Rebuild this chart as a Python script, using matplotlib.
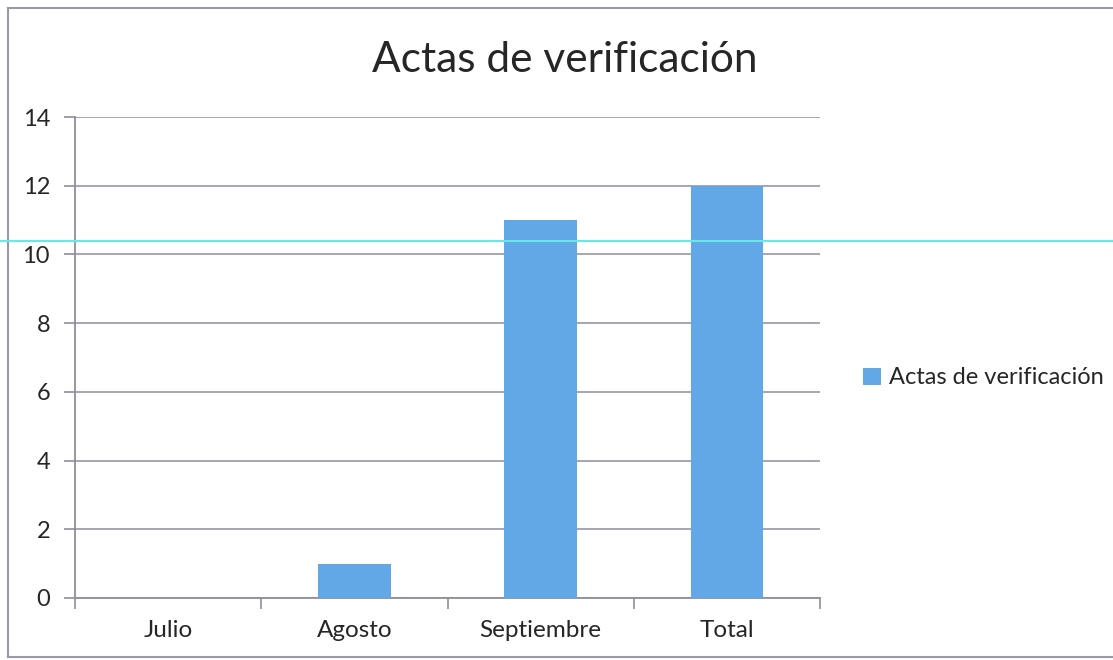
import matplotlib.pyplot as plt
from matplotlib.lines import Line2D
from matplotlib.patches import Patch

meses = ["Julio", "Agosto", "Septiembre", "Total"]
actas = [0, 1, 11, 12]
y_ticks = [0, 2, 4, 6, 8, 10, 12, 14]

plt.rcParams['font.family'] = ['Lato', 'DejaVu Sans']

AZUL = "#62A8E6"
GRIS = "#8E8E9E"
TEXTO = "#262626"

fig = plt.figure(figsize=(11.13, 6.6), dpi=100)
ax = fig.add_axes([75 / 1113, 62 / 660, 745 / 1113, 481 / 660])

x = list(range(len(meses)))
ax.bar(x, actas, width=0.39, color=AZUL, zorder=3)

ax.set_xlim(-0.5, len(meses) - 0.5)
ax.set_ylim(0, 14)
ax.set_yticks(y_ticks)
ax.set_xticks(x)
ax.set_xticklabels(meses)
ax.set_xticks([i + 0.5 for i in range(-1, len(meses))], minor=True)

ax.tick_params(axis="x", which="major", length=0, pad=16, labelsize=17.5, colors=TEXTO)
ax.tick_params(axis="x", which="minor", length=8, width=1.2, color=GRIS, direction="out")
ax.tick_params(axis="y", length=8, width=1.2, color=GRIS, pad=10, labelsize=17, labelcolor=TEXTO)

ax.grid(axis="y", color=GRIS, linewidth=1.1, zorder=0)
for s in ["top", "right"]:
    ax.spines[s].set_visible(False)
for s in ["left", "bottom"]:
    ax.spines[s].set_color(GRIS)
    ax.spines[s].set_linewidth(1.3)

fig.text(565 / 1113, 1 - 60 / 660, "Actas de verificación", ha="center", va="center",
         fontsize=30.5, color=TEXTO)

fig.legend(handles=[Patch(facecolor=AZUL, label="Actas de verificación")],
           loc="center left", bbox_to_anchor=(842 / 1113, 1 - 378 / 660),
           frameon=False, fontsize=17, handlelength=0.75, handleheight=0.75,
           handletextpad=0.35, labelcolor=TEXTO)

# marco del grafico y linea del escaneo
fig.add_artist(Line2D([8 / 1113, 8 / 1113], [1 - 8 / 660, 1 - 657 / 660], color="#9a9aa6", lw=1.5))
fig.add_artist(Line2D([8 / 1113, 1], [1 - 8 / 660, 1 - 8 / 660], color="#9a9aa6", lw=1.5))
fig.add_artist(Line2D([8 / 1113, 1], [1 - 657 / 660, 1 - 657 / 660], color="#9a9aa6", lw=1.5))
fig.add_artist(Line2D([0, 1], [1 - 241 / 660, 1 - 241 / 660], color="#6EE6E6", lw=1.5))

fig.savefig("out.png", dpi=100)
